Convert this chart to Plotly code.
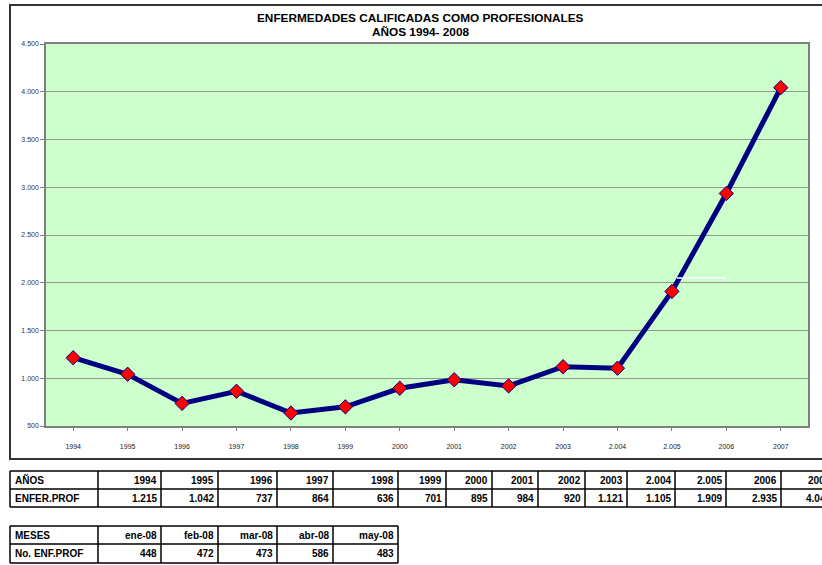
import plotly.graph_objects as go

# ---------------- data ----------------
years = ["1994", "1995", "1996", "1997", "1998", "1999", "2000", "2001",
         "2002", "2003", "2.004", "2.005", "2006", "2007"]
enfer_prof = [1215, 1042, 737, 864, 636, 701, 895, 984, 920, 1121, 1105,
              1909, 2935, 4043]
months = ["ene-08", "feb-08", "mar-08", "abr-08", "may-08"]
month_values = [448, 472, 473, 586, 483]
y_tickvals = [500, 1000, 1500, 2000, 2500, 3000, 3500, 4000, 4500]
y_ticktext = ["500", "1.000", "1.500", "2.000", "2.500", "3.000", "3.500",
              "4.000", "4.500"]
title_lines = ["ENFERMEDADES CALIFICADAS COMO PROFESIONALES", "AÑOS 1994- 2008"]
table1_headers = ["AÑOS", "ENFER.PROF"]
table2_headers = ["MESES", "No. ENF.PROF"]


def fmt(v):
    return f"{v:,}".replace(",", ".")


# ---------------- layout geometry (pixels) ----------------
W, H = 822, 565
L, R, T, B = 46, 808, 44, 426


def px(x):
    return (x - L) / (R - L)


def py(y):
    return (B - y) / (B - T)


FONT = "Liberation Sans, Arial, sans-serif"

fig = go.Figure()
fig.add_trace(go.Scatter(
    x=list(range(len(years))), y=enfer_prof, mode="lines+markers",
    line=dict(color="#000080", width=5),
    marker=dict(symbol="diamond", size=11, color="#ff0000",
                line=dict(color="#000080", width=1)),
    hoverinfo="x+y", showlegend=False,
))

shapes = []
annotations = []

# chart frame
shapes.append(dict(type="rect", xref="paper", yref="paper",
                   x0=px(10), x1=px(835), y0=py(5), y1=py(459),
                   line=dict(color="#333333", width=2), layer="below"))
# small white artifact line inside plot
shapes.append(dict(type="line", xref="paper", yref="paper",
                   x0=px(677), x1=px(726), y0=py(278), y1=py(278),
                   line=dict(color="#ffffff", width=1.5)))

# title
for i, t in enumerate(title_lines):
    annotations.append(dict(text=f"<b>{t}</b>", xref="paper", yref="paper",
                            x=px(420), y=py(18 + 14 * i), showarrow=False,
                            xanchor="center", yanchor="middle",
                            font=dict(family=FONT, size=11.8, color="#000")))

# ---------------- tables ----------------
t1_cols = [10, 98, 161, 218, 277, 333, 398, 446, 492, 538, 585, 627, 675,
           726, 781, 835]
t1_rows = [471, 489, 507]
t2_cols = [10, 98, 161, 218, 277, 333, 398]
t2_rows = [526, 544, 563]


def draw_table(cols, rows, headers, row_values):
    for r in rows:
        shapes.append(dict(type="line", xref="paper", yref="paper",
                           x0=px(cols[0]), x1=px(cols[-1]), y0=py(r), y1=py(r),
                           line=dict(color="#000", width=1.5)))
    for c in cols:
        shapes.append(dict(type="line", xref="paper", yref="paper",
                           x0=px(c), x1=px(c), y0=py(rows[0]), y1=py(rows[-1]),
                           line=dict(color="#000", width=1.5)))
    for ri in range(len(rows) - 1):
        yc = (rows[ri] + rows[ri + 1]) / 2
        annotations.append(dict(text=f"<b>{headers[ri]}</b>", xref="paper",
                                yref="paper", x=px(cols[0] + 3), y=py(yc),
                                xanchor="left", yanchor="middle",
                                showarrow=False,
                                font=dict(family=FONT, size=10, color="#000")))
        for ci, v in enumerate(row_values[ri]):
            annotations.append(dict(text=f"<b>{v}</b>", xref="paper",
                                    yref="paper", x=px(cols[ci + 2] - 2),
                                    y=py(yc), xanchor="right",
                                    yanchor="middle", showarrow=False,
                                    font=dict(family=FONT, size=10,
                                              color="#000")))


draw_table(t1_cols, t1_rows, table1_headers,
           [years, [fmt(v) for v in enfer_prof]])
draw_table(t2_cols, t2_rows, table2_headers,
           [months, [fmt(v) for v in month_values]])

fig.update_layout(
    width=W, height=H,
    margin=dict(l=L, r=W - R, t=T, b=H - B, pad=0),
    paper_bgcolor="#ffffff", plot_bgcolor="#ccffcc",
    font=dict(family=FONT, size=7, color="#222"),
    shapes=shapes, annotations=annotations,
    xaxis=dict(range=[-0.5, len(years) - 0.5], tickmode="array",
               tickvals=list(range(len(years))), ticktext=years,
               showgrid=False, zeroline=False, showline=True, mirror=True,
               linecolor="#808080", linewidth=1.5, ticks="outside",
               ticklen=3, tickcolor="#808080", ticklabelstandoff=10,
               tickfont=dict(size=7, family=FONT, color="#222"),
               fixedrange=True),
    yaxis=dict(range=[500, 4500], tickmode="array", tickvals=y_tickvals,
               ticktext=y_ticktext, showgrid=True, gridcolor="#909a90",
               gridwidth=1, zeroline=False, showline=True, mirror=True,
               linecolor="#808080", linewidth=1.5, ticks="outside",
               ticklen=4, tickcolor="#808080",
               tickfont=dict(size=7, family=FONT, color="#333"),
               fixedrange=True),
)

fig.write_html(
    "out.html",
    config={"displayModeBar": False},
    post_script="document.body.style.margin='0';document.body.style.overflow='hidden';",
)
